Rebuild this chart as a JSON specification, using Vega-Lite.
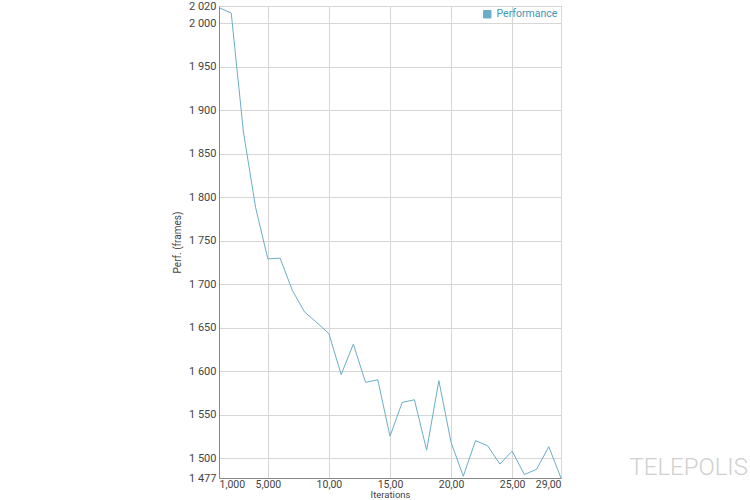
{
  "$schema": "https://vega.github.io/schema/vega-lite/v6.json",
  "width": 342,
  "height": 472,
  "padding": {"left": 172, "top": 0, "right": 5, "bottom": 0},
  "background": "white",
  "config": {
    "font": "Roboto",
    "view": {"stroke": "#888", "strokeWidth": 1},
    "axis": {"labelFont": "Roboto", "labelFontSize": 11, "labelColor": "#444", "titleFont": "Roboto", "titleFontSize": 10, "titleColor": "#444", "titleFontWeight": "normal", "gridColor": "#d6d6d6", "domainColor": "#888", "ticks": false}
  },
  "title": {"text": "TELEPOLIS", "orient": "bottom", "anchor": "end", "fontSize": 24, "font": "Roboto", "fontWeight": 300, "color": "#d0d0d0", "dx": 185, "dy": -47},
  "data": {"values": [
    {"iter": 1, "perf": 2018, "series": "Performance"},
    {"iter": 2, "perf": 2012, "series": "Performance"},
    {"iter": 3, "perf": 1875, "series": "Performance"},
    {"iter": 4, "perf": 1788, "series": "Performance"},
    {"iter": 5, "perf": 1729, "series": "Performance"},
    {"iter": 6, "perf": 1730, "series": "Performance"},
    {"iter": 7, "perf": 1693, "series": "Performance"},
    {"iter": 8, "perf": 1668, "series": "Performance"},
    {"iter": 9, "perf": 1656, "series": "Performance"},
    {"iter": 10, "perf": 1643, "series": "Performance"},
    {"iter": 11, "perf": 1596, "series": "Performance"},
    {"iter": 12, "perf": 1631, "series": "Performance"},
    {"iter": 13, "perf": 1587, "series": "Performance"},
    {"iter": 14, "perf": 1590, "series": "Performance"},
    {"iter": 15, "perf": 1525, "series": "Performance"},
    {"iter": 16, "perf": 1564, "series": "Performance"},
    {"iter": 17, "perf": 1567, "series": "Performance"},
    {"iter": 18, "perf": 1509, "series": "Performance"},
    {"iter": 19, "perf": 1589, "series": "Performance"},
    {"iter": 20, "perf": 1518, "series": "Performance"},
    {"iter": 21, "perf": 1479, "series": "Performance"},
    {"iter": 22, "perf": 1520, "series": "Performance"},
    {"iter": 23, "perf": 1514, "series": "Performance"},
    {"iter": 24, "perf": 1493, "series": "Performance"},
    {"iter": 25, "perf": 1508, "series": "Performance"},
    {"iter": 26, "perf": 1481, "series": "Performance"},
    {"iter": 27, "perf": 1487, "series": "Performance"},
    {"iter": 28, "perf": 1513, "series": "Performance"},
    {"iter": 29, "perf": 1477, "series": "Performance"}
  ]},
  "mark": {"type": "line", "strokeWidth": 1},
  "encoding": {
    "x": {"field": "iter", "type": "quantitative", "title": "Iterations",
      "scale": {"domain": [1, 29], "nice": false, "zero": false},
      "axis": {"values": [1, 5, 10, 15, 20, 25, 29], "labelFlush": true, "labelPadding": 1, "labelFontSize": 10.5, "titlePadding": 0, "titleFontSize": 9.5,
        "labelExpr": "datum.value == 1 ? '1,000' : datum.value == 5 ? '5,000' : datum.value + ',00'"}},
    "y": {"field": "perf", "type": "quantitative", "title": "Perf. (frames)",
      "scale": {"domain": [1477, 2020], "nice": false, "zero": false},
      "axis": {"values": [1477, 1500, 1550, 1600, 1650, 1700, 1750, 1800, 1850, 1900, 1950, 2000, 2020], "labelPadding": 3, "titlePadding": 6,
        "labelExpr": "replace(format(datum.value, ','), ',', ' ')"}},
    "color": {"field": "series", "type": "nominal", "title": null,
      "scale": {"range": ["#6aaec6"]},
      "legend": {"orient": "top-right", "offset": 3, "symbolType": "square", "symbolSize": 55, "symbolFillColor": "#6aaec6", "symbolStrokeColor": "#3a7f98", "symbolStrokeWidth": 1, "labelColor": "#3f96b6", "labelFontSize": 10.5, "labelFont": "Roboto", "padding": 0}}
  }
}
